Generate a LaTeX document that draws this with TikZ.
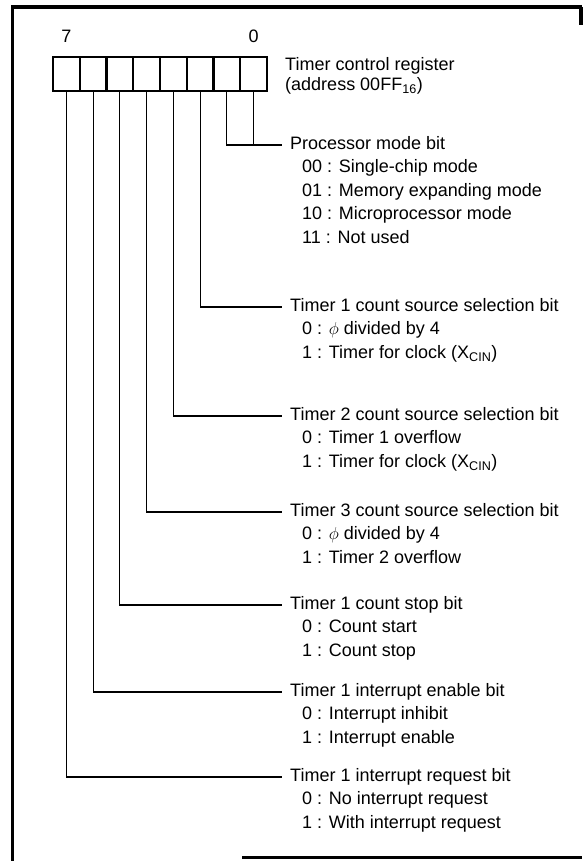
\documentclass[tikz,border=0pt]{standalone}
\usepackage{fontspec}
\setsansfont{Liberation Sans}
\usetikzlibrary{positioning}

\begin{document}
\begin{tikzpicture}[x=1pt,y=-1pt,font=\sffamily\fontsize{18}{20}\selectfont,
  regbit/.style={draw,line width=2.4pt,minimum width=26.75pt,minimum height=34pt,inner sep=0pt,outer sep=0pt},
  wire/.style={line width=1.1pt},
  frame/.style={line width=3.5pt},
  bitno/.style={inner sep=0pt},
  title/.style={inner sep=0pt,align=left},
  head/.style={inner sep=0pt,text height=13pt,text depth=4pt},
  opt/.style={inner sep=0pt,text height=13pt,text depth=4pt}]
  \useasboundingbox (0,0) rectangle (582,861);
  % outer frame, right side lost in the print
  \draw[frame] (582,7) -- (12.5,7) -- (12.5,861);
  \draw[frame] (242,857.5) -- (582,857.5);
  \draw[frame] (581,7) -- (581,25);

  % register, bit 7 on the left
  \node[regbit] (b7) at (66.4,74) {};
  \node[regbit,right=0pt of b7] (b6) {};
  \node[regbit,right=0pt of b6] (b5) {};
  \node[regbit,right=0pt of b5] (b4) {};
  \node[regbit,right=0pt of b4] (b3) {};
  \node[regbit,right=0pt of b3] (b2) {};
  \node[regbit,right=0pt of b2] (b1) {};
  \node[regbit,right=0pt of b1] (b0) {};
  \node[bitno,above=14pt of b7] (n7) {7};
  \node[bitno,above=14pt of b0] (n0) {0};
  \node[title,right=18pt of b0.north east,anchor=north west] (reg) {Timer control register\\(address 00FF\textsubscript{16})};

  % bits 1,0
  \coordinate (kp) at (282,145);
  \draw[wire] (b1.south) |- (kp);
  \draw[wire] (b0.south) -- (b0.south |- kp);
  \node[head,right=8pt of kp] (hp) {Processor mode bit};
  \node[opt,below right=6pt and 12pt of hp.south west] (p00) {00 : Single-chip mode};
  \node[opt,below right=6pt and 0pt of p00.south west] (p01) {01 : Memory expanding mode};
  \node[opt,below right=6pt and 0pt of p01.south west] (p10) {10 : Microprocessor mode};
  \node[opt,below right=6pt and 0pt of p10.south west] (p11) {11 : Not used};

  % bit 2
  \coordinate (k2) at (282,307);
  \draw[wire] (b2.south) |- (k2);
  \node[head,right=8pt of k2] (h2) {Timer 1 count source selection bit};
  \node[opt,below right=6pt and 12pt of h2.south west] (s20) {0 : $\phi$ divided by 4};
  \node[opt,below right=6pt and 0pt of s20.south west] (s21) {1 : Timer for clock (X\textsubscript{CIN})};

  % bit 3
  \coordinate (k3) at (282,416);
  \draw[wire] (b3.south) |- (k3);
  \node[head,right=8pt of k3] (h3) {Timer 2 count source selection bit};
  \node[opt,below right=6pt and 12pt of h3.south west] (s30) {0 : Timer 1 overflow};
  \node[opt,below right=6pt and 0pt of s30.south west] (s31) {1 : Timer for clock (X\textsubscript{CIN})};

  % bit 4
  \coordinate (k4) at (282,512);
  \draw[wire] (b4.south) |- (k4);
  \node[head,right=8pt of k4] (h4) {Timer 3 count source selection bit};
  \node[opt,below right=6pt and 12pt of h4.south west] (s40) {0 : $\phi$ divided by 4};
  \node[opt,below right=6pt and 0pt of s40.south west] (s41) {1 : Timer 2 overflow};

  % bit 5
  \coordinate (k5) at (282,605);
  \draw[wire] (b5.south) |- (k5);
  \node[head,right=8pt of k5] (h5) {Timer 1 count stop bit};
  \node[opt,below right=6pt and 12pt of h5.south west] (s50) {0 : Count start};
  \node[opt,below right=6pt and 0pt of s50.south west] (s51) {1 : Count stop};

  % bit 6
  \coordinate (k6) at (282,692);
  \draw[wire] (b6.south) |- (k6);
  \node[head,right=8pt of k6] (h6) {Timer 1 interrupt enable bit};
  \node[opt,below right=6pt and 12pt of h6.south west] (s60) {0 : Interrupt inhibit};
  \node[opt,below right=6pt and 0pt of s60.south west] (s61) {1 : Interrupt enable};

  % bit 7
  \coordinate (k7) at (282,777);
  \draw[wire] (b7.south) |- (k7);
  \node[head,right=8pt of k7] (h7) {Timer 1 interrupt request bit};
  \node[opt,below right=6pt and 12pt of h7.south west] (s70) {0 : No interrupt request};
  \node[opt,below right=6pt and 0pt of s70.south west] (s71) {1 : With interrupt request};
\end{tikzpicture}
\end{document}
